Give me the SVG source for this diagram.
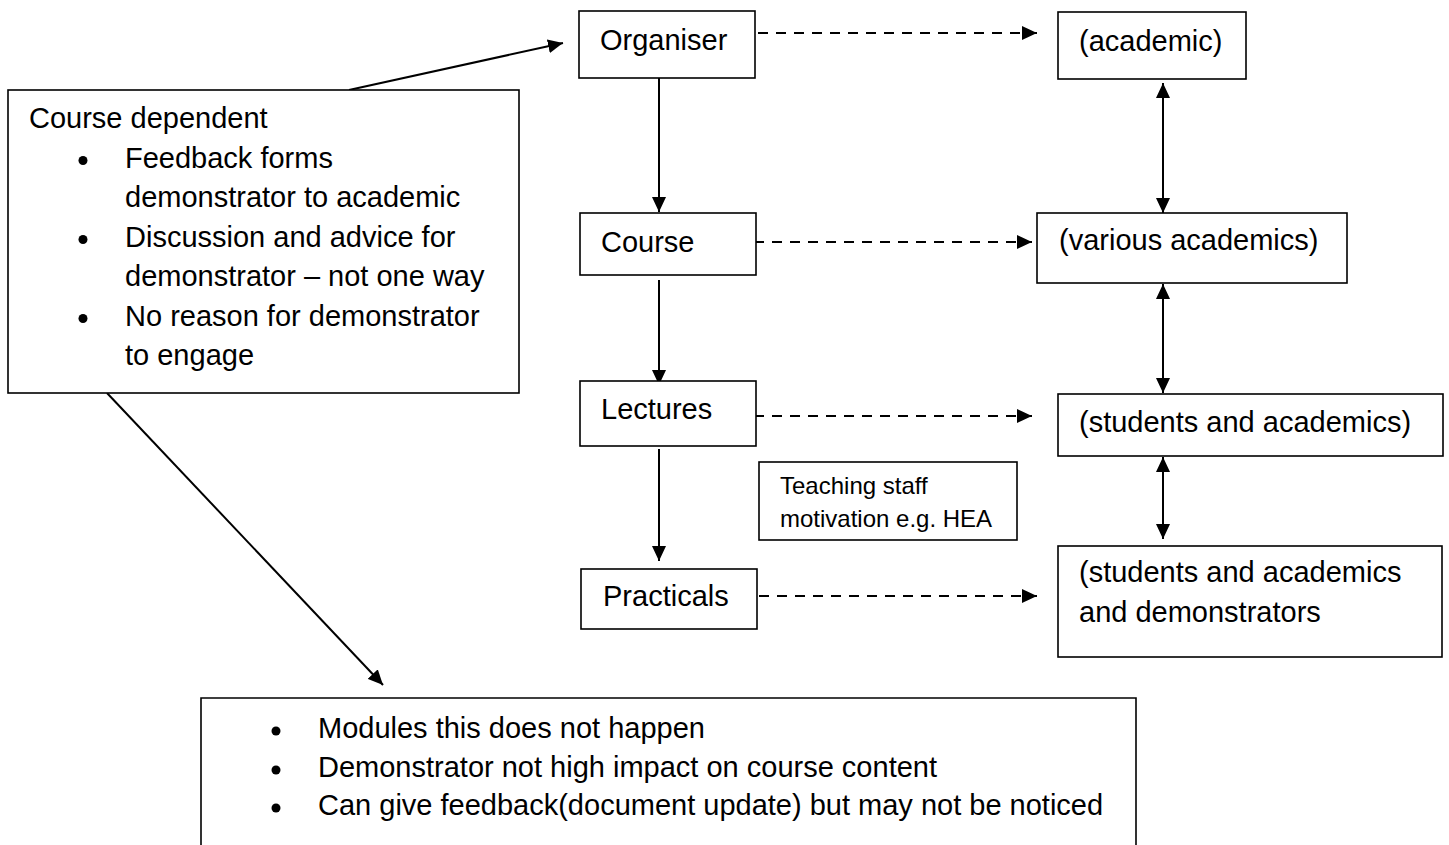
<svg xmlns="http://www.w3.org/2000/svg" width="1449" height="845" viewBox="0 0 1449 845">
<style>
.box{fill:#fff;stroke:#000;stroke-width:1.6}
.t{font-family:"Liberation Sans",Arial,sans-serif;font-size:29px;fill:#000}
.s{font-family:"Liberation Sans",Arial,sans-serif;font-size:24px;fill:#000}
.ln{fill:none;stroke:#000;stroke-width:2}
.dash{fill:none;stroke:#000;stroke-width:2;stroke-dasharray:10 8}
.dot{fill:#000}
</style>
<defs>
<marker id="ah" viewBox="0 0 15 14" refX="15" refY="7" markerWidth="15" markerHeight="14" orient="auto-start-reverse" markerUnits="userSpaceOnUse">
<path d="M0,0 L15,7 L0,14 z" fill="#000"/>
</marker>
</defs>
<rect width="1449" height="845" fill="#fff"/>
<g id="connectors">
<path class="dash" d="M758,33 H1037" marker-end="url(#ah)"/>
<path class="dash" d="M754,242 H1032" marker-end="url(#ah)"/>
<path class="dash" d="M754,416 H1032" marker-end="url(#ah)"/>
<path class="dash" d="M759,596 H1037" marker-end="url(#ah)"/>
<path class="ln" d="M659,78 V212" marker-end="url(#ah)"/>
<path class="ln" d="M659,280 V385" marker-end="url(#ah)"/>
<path class="ln" d="M659,449 V561" marker-end="url(#ah)"/>
<path class="ln" d="M1163,83 V213" marker-start="url(#ah)" marker-end="url(#ah)"/>
<path class="ln" d="M1163,284 V393" marker-start="url(#ah)" marker-end="url(#ah)"/>
<path class="ln" d="M1163,457 V539" marker-start="url(#ah)" marker-end="url(#ah)"/>
<path class="ln" d="M349,90 L563,43" marker-end="url(#ah)"/>
<path class="ln" d="M107,393 L383,685" marker-end="url(#ah)"/>
</g>
<g id="organiser">
<rect class="box" x="579" y="11" width="176" height="67"/>
<text class="t" x="600" y="50">Organiser</text>
</g>
<g id="academic">
<rect class="box" x="1058" y="12" width="188" height="67"/>
<text class="t" x="1079" y="51">(academic)</text>
</g>
<g id="course">
<rect class="box" x="580" y="213" width="176" height="62"/>
<text class="t" x="601" y="252">Course</text>
</g>
<g id="various">
<rect class="box" x="1037" y="213" width="310" height="70"/>
<text class="t" x="1059" y="250">(various academics)</text>
</g>
<g id="lectures">
<rect class="box" x="580" y="381" width="176" height="65"/>
<text class="t" x="601" y="419">Lectures</text>
</g>
<g id="students">
<rect class="box" x="1058" y="394" width="385" height="62"/>
<text class="t" x="1079" y="432">(students and academics)</text>
</g>
<g id="teaching">
<rect class="box" x="759" y="462" width="258" height="78"/>
<text class="s" x="780" y="494">Teaching staff</text>
<text class="s" x="780" y="527">motivation e.g. HEA</text>
</g>
<g id="practicals">
<rect class="box" x="581" y="569" width="176" height="60"/>
<text class="t" x="603" y="606">Practicals</text>
</g>
<g id="demonstrators">
<rect class="box" x="1058" y="546" width="384" height="111"/>
<text class="t" x="1079" y="582">(students and academics</text>
<text class="t" x="1079" y="622">and demonstrators</text>
</g>
<g id="course-dependent">
<rect class="box" x="8" y="90" width="511" height="303"/>
<text class="t" x="29" y="128">Course dependent</text>
<circle class="dot" cx="83" cy="160.5" r="4.5"/>
<text class="t" x="125" y="167.5">Feedback forms</text>
<text class="t" x="125" y="207">demonstrator to academic</text>
<circle class="dot" cx="83" cy="239.5" r="4.5"/>
<text class="t" x="125" y="246.5">Discussion and advice for</text>
<text class="t" x="125" y="286">demonstrator – not one way</text>
<circle class="dot" cx="83" cy="318.5" r="4.5"/>
<text class="t" x="125" y="325.5">No reason for demonstrator</text>
<text class="t" x="125" y="365">to engage</text>
</g>
<g id="modules">
<path class="box" d="M201,860 V698 H1136 V860"/>
<circle class="dot" cx="276" cy="731" r="4.5"/>
<text class="t" x="318" y="738">Modules this does not happen</text>
<circle class="dot" cx="276" cy="770" r="4.5"/>
<text class="t" x="318" y="777">Demonstrator not high impact on course content</text>
<circle class="dot" cx="276" cy="808" r="4.5"/>
<text class="t" x="318" y="815">Can give feedback(document update) but may not be noticed</text>
</g>
</svg>
